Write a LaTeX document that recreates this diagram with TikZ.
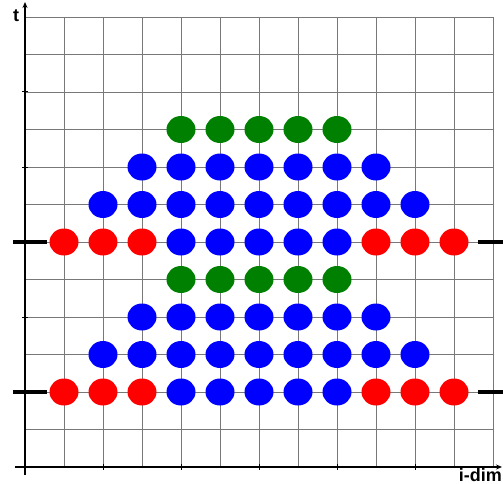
\documentclass[tikz,border=0pt]{standalone}
\usepackage{fontspec}
\setmainfont{Liberation Sans}
\usetikzlibrary{arrows.meta,shapes.geometric}
\definecolor{dotgreen}{RGB}{0,128,0}
\definecolor{dotblue}{RGB}{0,0,255}
\definecolor{dotred}{RGB}{255,0,0}
\definecolor{gridgray}{RGB}{120,120,120}
\begin{document}
\begin{tikzpicture}[x=1pt,y=-1pt,
  gridline/.style={draw=gridgray, line width=0.9pt},
  axisline/.style={draw=black, line width=1.8pt, -{Stealth[length=6pt,width=5pt]}},
  tickmark/.style={draw=black, line width=1pt},
  thickbar/.style={draw=black, line width=4pt},
  dotbase/.style={ellipse, minimum width=29pt, minimum height=27pt, inner sep=0pt},
  gdot/.style={dotbase, fill=dotgreen},
  bdot/.style={dotbase, fill=dotblue},
  rdot/.style={dotbase, fill=dotred},
  lbl/.style={font=\bfseries\fontsize{18}{18}\selectfont, inner sep=0pt}]
\useasboundingbox (0,0) rectangle (503,484);
% grid
\foreach \k in {0,...,12} \draw[gridline] (25+39*\k,17) -- (25+39*\k,467);
\foreach \j in {0,...,12} \draw[gridline] (25,17+37.5*\j) -- (493,17+37.5*\j);
% axes
\coordinate (yb) at (25,475);
\coordinate (yt) at (25,2);
\coordinate (xl) at (15,467);
\coordinate (xr) at (502,467);
\draw[axisline] (yb) -- (yt);
\draw[axisline] (xl) -- (xr);
\foreach \j in {2,4,...,10} \draw[tickmark] (22,17+37.5*\j) -- (28,17+37.5*\j);
\foreach \k in {2,4,...,10} \draw[tickmark] (25+39*\k,464) -- (25+39*\k,470);
% thick bars
\foreach \y in {242,392} {
  \coordinate (bl1-\y) at (13,\y); \coordinate (bl2-\y) at (47,\y);
  \coordinate (br1-\y) at (478,\y); \coordinate (br2-\y) at (503,\y);
  \draw[thickbar] (bl1-\y) -- (bl2-\y);
  \draw[thickbar] (br1-\y) -- (br2-\y);
}
% dots
\foreach \j/\kmin/\kmax/\st in {3/4/8/gdot,4/3/9/bdot,5/2/10/bdot,6/4/8/bdot,6/1/3/rdot,6/9/11/rdot,7/4/8/gdot,8/3/9/bdot,9/2/10/bdot,10/4/8/bdot,10/1/3/rdot,10/9/11/rdot}
  \foreach \k in {\kmin,...,\kmax}
    \node[\st] (d-\j-\k) at (25+39*\k,17+37.5*\j) {};
% labels
\node[lbl, anchor=base] (tlab) at (16,22) {t};
\node[lbl, anchor=base east] (ilab) at (502,481) {i-dim};
\end{tikzpicture}
\end{document}
